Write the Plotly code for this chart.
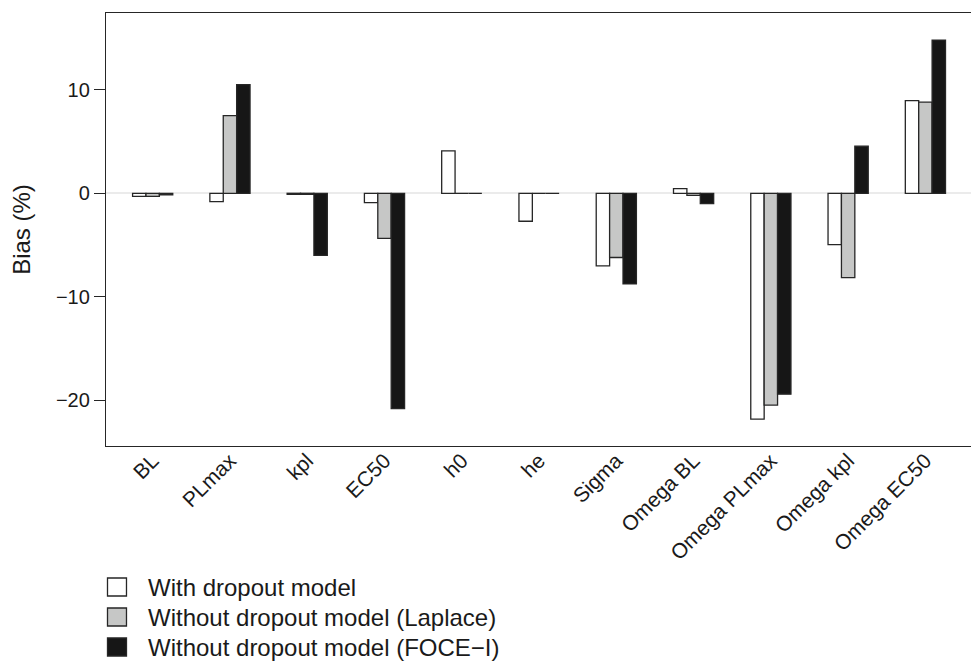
import plotly.graph_objects as go

categories = ["BL", "PLmax", "kpl", "EC50", "h0", "he", "Sigma",
              "Omega BL", "Omega PLmax", "Omega kpl", "Omega EC50"]
series_names = ["With dropout model",
                "Without dropout model (Laplace)",
                "Without dropout model (FOCE\u2212I)"]
with_dropout = [-0.3, -0.8, -0.1, -0.9, 4.1, -2.7, -7.0, 0.45, -21.8, -4.95, 8.95]
without_laplace = [-0.3, 7.5, -0.1, -4.35, 0.0, 0.0, -6.2, -0.2, -20.45, -8.15, 8.8]
without_foce = [-0.15, 10.5, -6.0, -20.8, 0.0, 0.0, -8.75, -1.0, -19.4, 4.55, 14.8]
y_ticks = [-20, -10, 0, 10]

fills = ["#ffffff", "#c6c7c6", "#161616"]
series = [with_dropout, without_laplace, without_foce]

W, H = 971, 661
L, R, T, B = 105.5, 0, 13, 215
pw, ph = W - L - R, H - T - B

fig = go.Figure()
for name, vals, col in zip(series_names, series, fills):
    fig.add_trace(go.Bar(x=categories, y=vals, name=name,
                         marker=dict(color=col, line=dict(color="#262626", width=1.3)),
                         showlegend=False))

font_family = "Liberation Sans, Arial, sans-serif"
fig.update_layout(
    width=W, height=H,
    margin=dict(l=L, r=R, t=T, b=B, pad=0),
    plot_bgcolor="white", paper_bgcolor="white",
    barmode="group", bargap=0.48, bargroupgap=0,
    font=dict(family=font_family, size=20, color="#1a1a1a"),
)
fig.update_xaxes(range=[-0.604, 10.59], showline=True, mirror=True,
                 linecolor="#262626", linewidth=1.3, ticks="", tickangle=-45,
                 showgrid=False, tickfont=dict(size=21), ticklabelstandoff=-7)
fig.update_yaxes(range=[-24.4, 17.41], tickvals=y_ticks, showline=True, mirror=False,
                 linecolor="#262626", linewidth=1.3, ticks="outside", ticklen=11,
                 tickwidth=1.3, tickcolor="#262626", showgrid=False,
                 zeroline=True, zerolinecolor="#ebebeb", zerolinewidth=1.5,
                 title=dict(text="Bias (%)", font=dict(size=24), standoff=18),
                 tickfont=dict(size=20))

# legend drawn manually below the plot
def px_x(px):
    return (px - L) / pw

def px_y(py):
    return (H - B - py) / ph

row_centers = [587, 617, 647]
for name, col, yc in zip(series_names, fills, row_centers):
    fig.add_shape(type="rect", xref="paper", yref="paper",
                  x0=px_x(107), x1=px_x(126), y0=px_y(yc + 9), y1=px_y(yc - 9),
                  fillcolor=col, line=dict(color="#262626", width=1.3))
    fig.add_annotation(xref="paper", yref="paper", x=px_x(146), y=px_y(yc),
                       text=name, showarrow=False, xanchor="left", yanchor="middle",
                       font=dict(size=24, family=font_family, color="#1a1a1a"))

fig.write_html("out.html")
